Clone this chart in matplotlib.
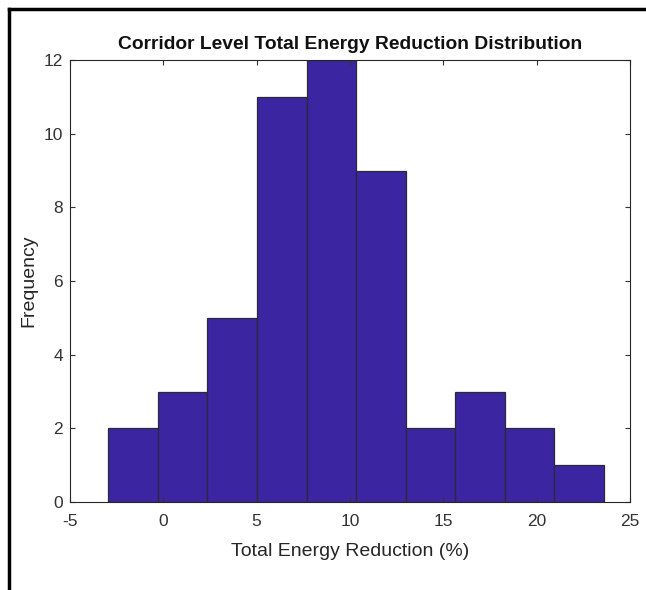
import matplotlib
matplotlib.use("Agg")
import matplotlib.pyplot as plt
from matplotlib.lines import Line2D

plt.rcParams['font.family'] = ['Liberation Sans', 'DejaVu Sans']
plt.rcParams['axes.unicode_minus'] = False

# Data
bin_edges = [-2.948, -0.293, 2.363, 5.018, 7.674, 10.329, 12.985, 15.640, 18.296, 20.951, 23.607]
counts = [2, 3, 5, 11, 12, 9, 2, 3, 2, 1]
x_ticks = [-5, 0, 5, 10, 15, 20, 25]
y_ticks = [0, 2, 4, 6, 8, 10, 12]

title = "Corridor Level Total Energy Reduction Distribution"
xlabel = "Total Energy Reduction (%)"
ylabel = "Frequency"

fig = plt.figure(figsize=(6.46, 5.90), dpi=100)
ax = fig.add_axes([70/646, 1-502/590, 560/646, 442/590])

lefts = bin_edges[:-1]
widths = [b - a for a, b in zip(bin_edges[:-1], bin_edges[1:])]
ax.bar(lefts, counts, width=widths, align='edge', color='#3B25A0',
       edgecolor='#2a2a3a', linewidth=0.9)

ax.set_xlim(-5, 25)
ax.set_ylim(0, 12)
ax.set_xticks(x_ticks)
ax.set_yticks(y_ticks)
ax.tick_params(direction='in', length=3.5, width=0.8, colors='#333333',
               labelsize=12.5, top=True, right=True, pad=5)
ax.tick_params(axis='x', pad=9)
for s in ax.spines.values():
    s.set_color('#262626')
    s.set_linewidth(0.8)

ax.set_title(title, fontsize=13.9, fontweight='bold', color='#111111', pad=8)
ax.set_xlabel(xlabel, fontsize=14, color='#262626', labelpad=10)
ax.set_ylabel(ylabel, fontsize=14, color='#262626', labelpad=4.5)

# partial outer frame (top and left)
fig.add_artist(Line2D([8.5/646, 1.0], [1-8.5/590, 1-8.5/590], transform=fig.transFigure,
                      color='black', linewidth=2.5))
fig.add_artist(Line2D([8.5/646, 8.5/646], [0.0, 1-8.5/590], transform=fig.transFigure,
                      color='black', linewidth=2.5))

fig.savefig("out.png", dpi=100)
